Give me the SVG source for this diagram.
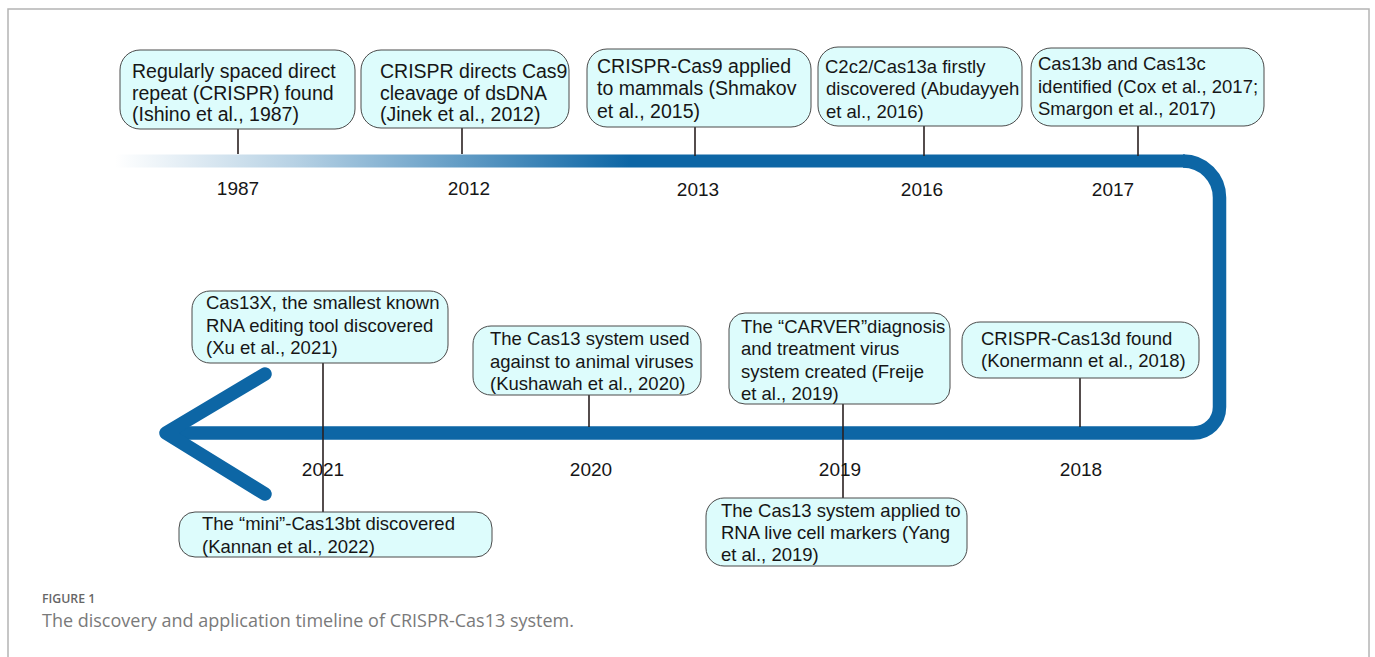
<svg xmlns="http://www.w3.org/2000/svg" width="1375" height="657" viewBox="0 0 1375 657">
<defs>
<linearGradient id="fade" gradientUnits="userSpaceOnUse" x1="115" y1="0" x2="630" y2="0">
<stop offset="0" stop-color="#0d66a5" stop-opacity="0"/>
<stop offset="0.35" stop-color="#0d66a5" stop-opacity="0.3"/>
<stop offset="1" stop-color="#0d66a5" stop-opacity="1"/>
</linearGradient>
</defs>
<style>
.box{fill:#ddfcfc;stroke:#4a4a4a;stroke-width:1}
.t{font-family:"Liberation Sans",Arial,sans-serif;font-size:18.5px;fill:#161616}
.tl{font-size:19.5px}
.yr{font-family:"Liberation Sans",Arial,sans-serif;font-size:19px;fill:#161616;text-anchor:middle}
.tick{stroke:#2a2020;stroke-width:1.6}
.bar{fill:none;stroke:#0d66a5;stroke-width:13.5}
</style>
<rect x="8" y="9" width="1361" height="660" fill="#ffffff" stroke="#b4b4b4" stroke-width="1.5"/>

<g id="connectors">
<rect x="115" y="154.5" width="1070" height="13" fill="url(#fade)"/>
<path class="bar" d="M1183,161 A36.5,36.5 0 0 1 1219.5,197.5 L1219.5,407 A26,26 0 0 1 1193.5,433 L166,433" stroke-linejoin="round"/>
<polyline class="bar" points="265,374 166,433 265,494" stroke-linecap="round" stroke-linejoin="round"/>
<line class="tick" x1="238" y1="129" x2="238" y2="154"/>
<line class="tick" x1="462" y1="128" x2="462" y2="154"/>
<line class="tick" x1="695" y1="127" x2="695" y2="156"/>
<line class="tick" x1="924" y1="126" x2="924" y2="156"/>
<line class="tick" x1="1138" y1="126" x2="1138" y2="156"/>
<line class="tick" x1="323" y1="363" x2="323" y2="512"/>
<line class="tick" x1="589" y1="395" x2="589" y2="427"/>
<line class="tick" x1="843" y1="404" x2="843" y2="498"/>
<line class="tick" x1="1080" y1="378" x2="1080" y2="427"/>
</g>

<g id="years">
<text class="yr" x="238" y="195">1987</text>
<text class="yr" x="469" y="195">2012</text>
<text class="yr" x="698" y="196">2013</text>
<text class="yr" x="922" y="196">2016</text>
<text class="yr" x="1113" y="196">2017</text>
<text class="yr" x="323" y="476">2021</text>
<text class="yr" x="591" y="476">2020</text>
<text class="yr" x="840" y="476">2019</text>
<text class="yr" x="1081" y="476">2018</text>
</g>

<g id="n1987">
<rect class="box" x="120" y="50" width="235" height="79" rx="20"/>
<text class="t tl" x="132" y="78">Regularly spaced direct</text>
<text class="t tl" x="132" y="99.5">repeat (CRISPR) found</text>
<text class="t tl" x="132" y="121">(Ishino et al., 1987)</text>
</g>
<g id="n2012">
<rect class="box" x="361" y="50" width="208" height="78" rx="20"/>
<text class="t tl" x="380" y="78">CRISPR directs Cas9</text>
<text class="t tl" x="380" y="99.5">cleavage of dsDNA</text>
<text class="t tl" x="380" y="121">(Jinek et al., 2012)</text>
</g>
<g id="n2013">
<rect class="box" x="587" y="49" width="224" height="78" rx="20"/>
<text class="t tl" x="597" y="73">CRISPR-Cas9 applied</text>
<text class="t tl" x="597" y="95">to mammals (Shmakov</text>
<text class="t tl" x="597" y="118">et al., 2015)</text>
</g>
<g id="n2016">
<rect class="box" x="818" y="47" width="204" height="79" rx="20"/>
<text class="t" x="825" y="72.5">C2c2/Cas13a firstly</text>
<text class="t" x="826" y="95">discovered (Abudayyeh</text>
<text class="t" x="826" y="117.5"> et al., 2016)</text>
</g>
<g id="n2017">
<rect class="box" x="1031" y="48" width="233" height="78" rx="20"/>
<text class="t" x="1038" y="69.5">Cas13b and Cas13c</text>
<text class="t" x="1038" y="92.5">identified  (Cox et al., 2017;</text>
<text class="t" x="1038" y="114.5">Smargon et al., 2017)</text>
</g>
<g id="n2021">
<rect class="box" x="192" y="291" width="256" height="72" rx="18"/>
<text class="t" x="206" y="308.5">Cas13X, the smallest known</text>
<text class="t" x="206" y="331.5">RNA editing tool discovered</text>
<text class="t" x="206" y="353.5">(Xu et al., 2021)</text>
</g>
<g id="n2022">
<rect class="box" x="179" y="512" width="313" height="45" rx="16"/>
<text class="t" x="202" y="529.5">The “mini”-Cas13bt discovered</text>
<text class="t" x="202" y="552.5">(Kannan et al., 2022)</text>
</g>
<g id="n2020">
<rect class="box" x="473" y="326" width="228" height="69" rx="18"/>
<text class="t" x="490" y="344.5">The Cas13 system used</text>
<text class="t" x="490" y="367.5">against to animal viruses</text>
<text class="t" x="490" y="389.5">(Kushawah et al., 2020)</text>
</g>
<g id="n2019a">
<rect class="box" x="729" y="313" width="221" height="91" rx="16"/>
<text class="t" x="741" y="332.5">The “CARVER”diagnosis</text>
<text class="t" x="741" y="354.5">and treatment virus</text>
<text class="t" x="741" y="377.5">system created  (Freije</text>
<text class="t" x="741" y="399.5">et al., 2019)</text>
</g>
<g id="n2019b">
<rect class="box" x="706" y="498" width="261" height="68" rx="18"/>
<text class="t" x="721" y="516.5">The Cas13 system applied to</text>
<text class="t" x="721" y="538.5">RNA live cell markers (Yang</text>
<text class="t" x="721" y="560.5">et al., 2019)</text>
</g>
<g id="n2018">
<rect class="box" x="962" y="322" width="237" height="56" rx="18"/>
<text class="t" x="981" y="344.5">CRISPR-Cas13d found</text>
<text class="t" x="981" y="366.5">(Konermann et al., 2018)</text>
</g>

<g id="caption">
<text x="42" y="603" font-family="'Open Sans',sans-serif" font-size="12.3px" font-weight="600" fill="#666">FIGURE 1</text>
<text x="42" y="627" font-family="'Open Sans',sans-serif" font-size="18px" fill="#7a7a7a">The discovery and application timeline of CRISPR-Cas13 system.</text>
</g>
</svg>
